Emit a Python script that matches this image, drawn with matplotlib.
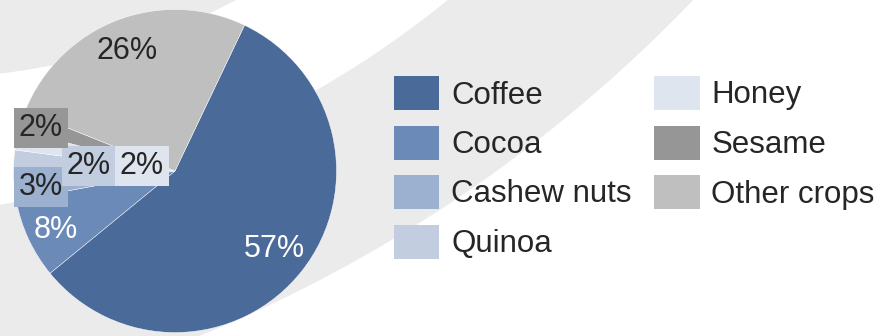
import matplotlib
matplotlib.use("Agg")
import matplotlib.pyplot as plt
from matplotlib.patches import Circle
import numpy as np

plt.rcParams['font.family'] = ['Liberation Sans', 'DejaVu Sans']

# ---- data ----
categories = ["Coffee", "Cocoa", "Cashew nuts", "Quinoa", "Honey", "Sesame", "Other crops"]
shares = [57, 8, 3, 2, 2, 2, 26]
pct_labels = ["57%", "8%", "3%", "2%", "2%", "2%", "26%"]

# ---- style / layout ----
colors = ["#4A6A9A", "#6B8AB7", "#9CB0CF", "#C2CDE0", "#DFE5EF", "#969696", "#BFBFBF"]
text_colors = ["white", "white", "#262626", "#262626", "#262626", "#262626", "#262626"]
boxed = [False, False, True, True, True, True, False]
label_px = [(274, 249), (56, 230), (41, 187), (89, 166), (142, 166), (41, 128), (127, 51)]
W, H = 881, 336
cx, cy, R = 175.0, 171.0, 161.5
BG = "#EBEBEB"

fig = plt.figure(figsize=(W / 100, H / 100), dpi=100)
fig.patch.set_facecolor("white")

# background swooshes
bg = fig.add_axes([0, 0, 1, 1])
bg.set_xlim(0, W)
bg.set_ylim(H, 0)
bg.axis("off")
bg.add_patch(Circle((-345, -995), 1438, color=BG, lw=0))
bg.add_patch(Circle((-170, -759), 978.6, color="white", lw=0))
bg.add_patch(Circle((-81, -602), 680.4, color=BG, lw=0))

# pie
lim = 1.02
pax = fig.add_axes([(cx - R * lim) / W, (H - cy - R * lim) / H, 2 * R * lim / W, 2 * R * lim / H])
pax.pie(shares, colors=colors, startangle=64.5, counterclock=False, radius=1,
        wedgeprops=dict(edgecolor="white", linewidth=0.3))
pax.set_xlim(-lim, lim)
pax.set_ylim(-lim, lim)
pax.axis("off")

# labels
lax = fig.add_axes([0, 0, 1, 1])
lax.set_xlim(0, W)
lax.set_ylim(H, 0)
lax.axis("off")
lax.patch.set_alpha(0)
for i, lab in enumerate(pct_labels):
    x, y = label_px[i]
    kw = {}
    if boxed[i]:
        kw["bbox"] = dict(boxstyle="square,pad=0.17", fc=colors[i], ec="none")
    lax.text(x, y, lab, ha="center", va="center", fontsize=22, color=text_colors[i], **kw)

# legend
handles = [plt.Rectangle((0, 0), 1, 1, fc=c, ec="none") for c in colors]
leg = fig.legend(handles, categories, ncol=2, loc="upper left",
                 bbox_to_anchor=(394 / W, 1 - 76 / H), bbox_transform=fig.transFigure,
                 frameon=False, fontsize=22.5, handlelength=1.45, handleheight=1.3,
                 handletextpad=0.38, columnspacing=0.72, labelspacing=0.48,
                 borderpad=0, borderaxespad=0, labelcolor="#262626")

fig.savefig("out.png", dpi=100, facecolor="white")
